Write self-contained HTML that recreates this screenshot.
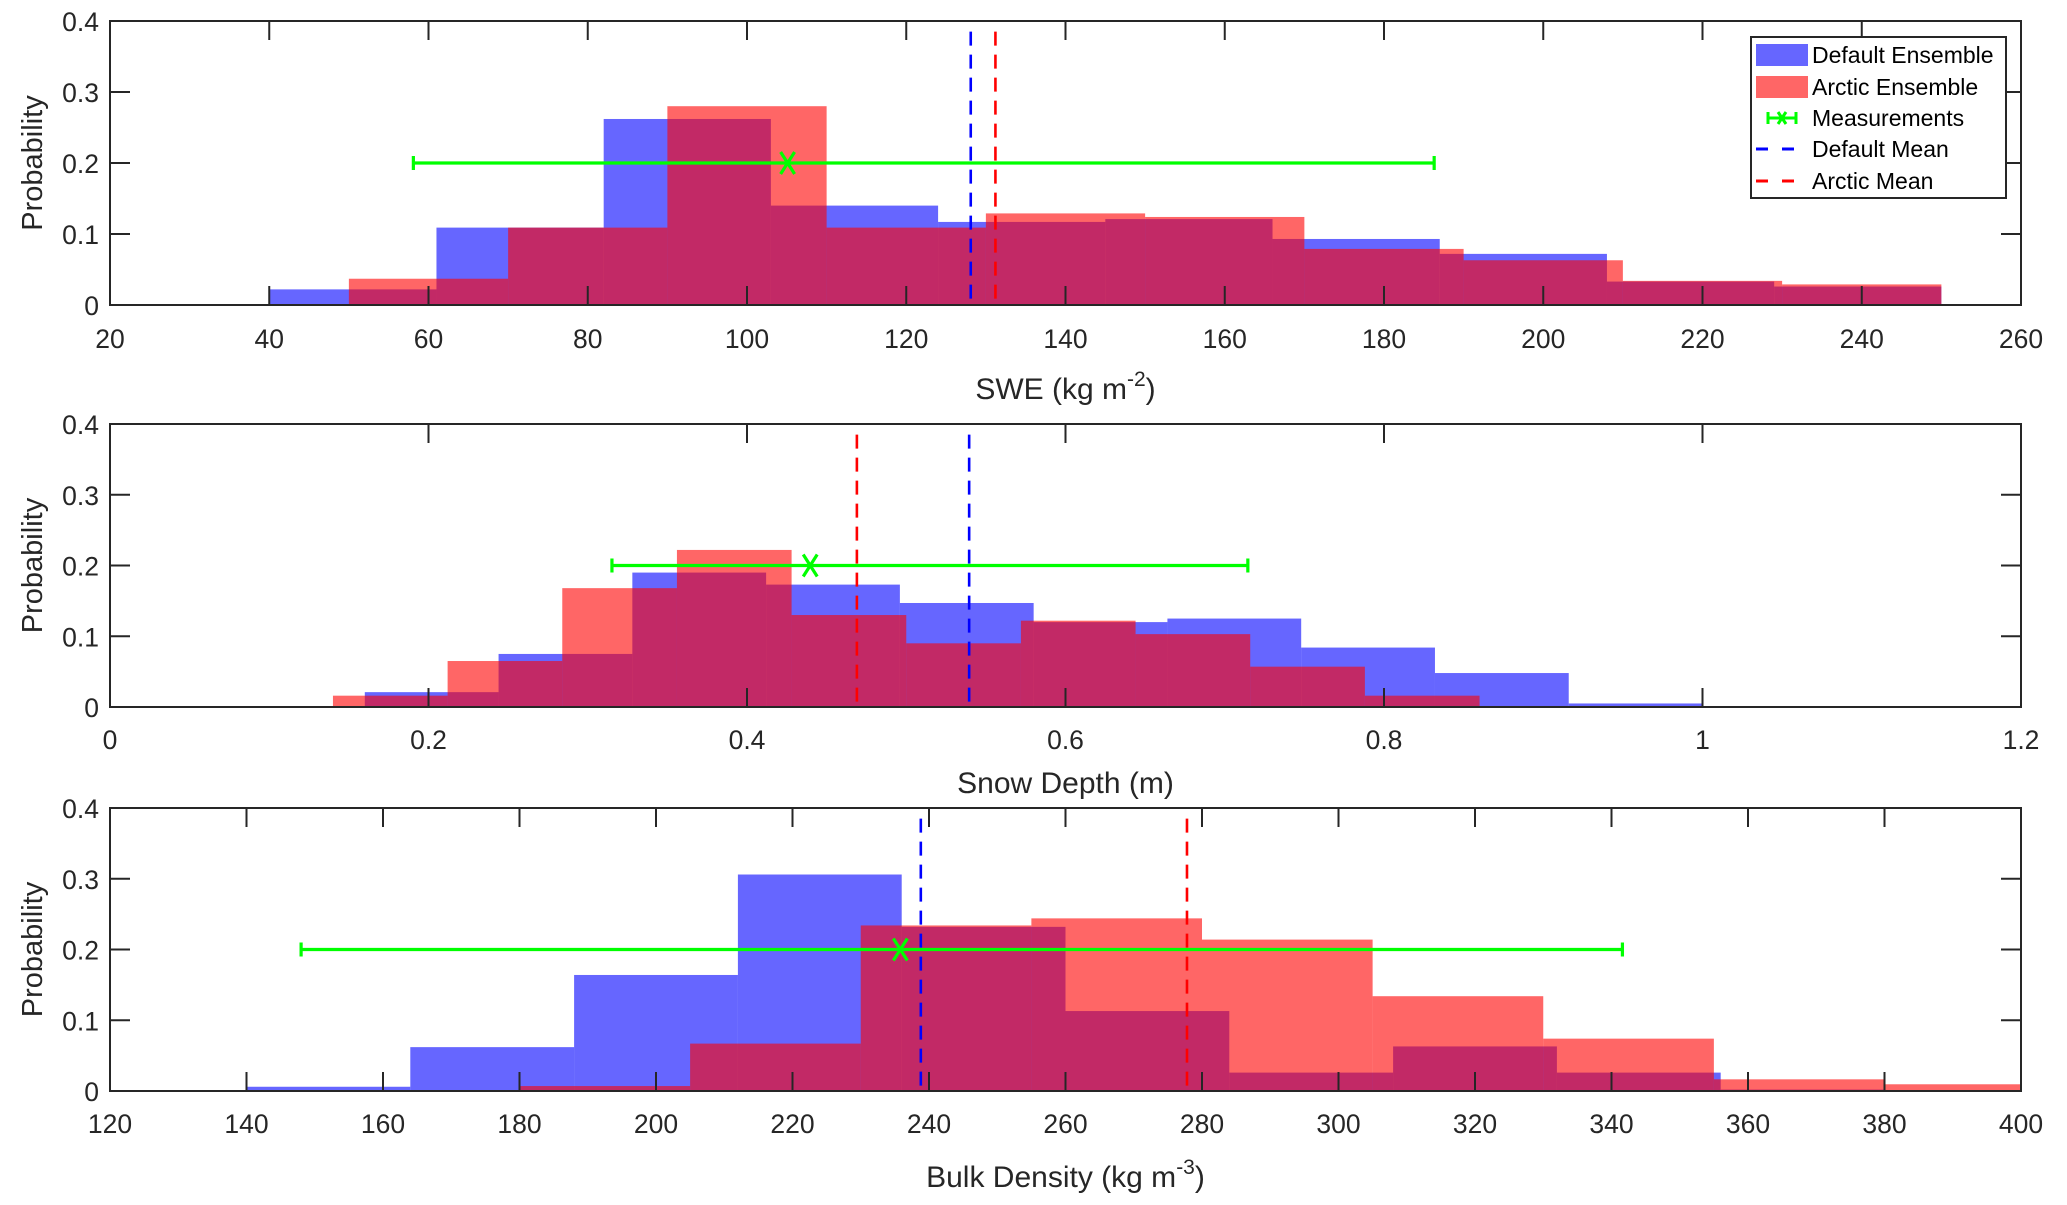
<!DOCTYPE html>
<html><head><meta charset="utf-8"><style>
html,body{margin:0;padding:0;background:#fff;}
svg{display:block;font-family:"Liberation Sans",Arial,sans-serif;}
</style></head><body>
<svg id="chart" width="2067" height="1205" viewBox="0 0 2067 1205" xmlns="http://www.w3.org/2000/svg"></svg>
<script>
// ---- Panel 1: SWE ----
const sweBlueEdges = [40,61,82,103,124,145,166,187,208,229,250];
const sweBlueVals = [0.022,0.109,0.262,0.140,0.117,0.121,0.093,0.072,0.033,0.026];
const sweRedEdges = [50,70,90,110,130,150,170,190,210,230,250];
const sweRedVals = [0.037,0.109,0.280,0.109,0.129,0.124,0.079,0.063,0.034,0.029];
const sweTicks = [20,40,60,80,100,120,140,160,180,200,220,240,260];
const sweMeans = [128.1,131.2];
const sweMeas = [105.1,58.1,186.3];
// ---- Panel 2: Snow depth ----
const depthBlueEdges = [0.16,0.244,0.328,0.412,0.496,0.58,0.664,0.748,0.832,0.916,1.0];
const depthBlueVals = [0.021,0.075,0.190,0.173,0.147,0.120,0.125,0.084,0.048,0.005];
const depthRedEdges = [0.14,0.212,0.284,0.356,0.428,0.5,0.572,0.644,0.716,0.788,0.86];
const depthRedVals = [0.016,0.065,0.168,0.222,0.130,0.090,0.122,0.103,0.057,0.016];
const depthTicks = [0,0.2,0.4,0.6,0.8,1,1.2];
const depthMeans = [0.5395,0.469];
const depthMeas = [0.4397,0.3152,0.7145];
// ---- Panel 3: Bulk density ----
const densBlueEdges = [140,164,188,212,236,260,284,308,332,356,380];
const densBlueVals = [0.006,0.062,0.164,0.306,0.232,0.113,0.026,0.063,0.026,0.002];
const densRedEdges = [180,205,230,255,280,305,330,355,380,405];
const densRedVals = [0.007,0.067,0.234,0.244,0.214,0.134,0.074,0.0165,0.0095];
const densTicks = [120,140,160,180,200,220,240,260,280,300,320,340,360,380,400];
const densMeans = [238.8,277.8];
const densMeas = [235.8,148,341.6];
const yTicks = [0,0.1,0.2,0.3,0.4];

const NS='http://www.w3.org/2000/svg';
const svg=document.getElementById('chart');
function mk(tag,attrs,parent){const e=document.createElementNS(NS,tag);for(const k in attrs)e.setAttribute(k,attrs[k]);(parent||svg).appendChild(e);return e;}

const panels=[
 {key:'swe',top:21,bot:305,xmin:20,xmax:260,bE:sweBlueEdges,bV:sweBlueVals,rE:sweRedEdges,rV:sweRedVals,ticks:sweTicks,means:sweMeans,meas:sweMeas,tickBase:348,label:'SWE (kg m',sup:'-2',labelBase:399},
 {key:'depth',top:424,bot:707,xmin:0,xmax:1.2,bE:depthBlueEdges,bV:depthBlueVals,rE:depthRedEdges,rV:depthRedVals,ticks:depthTicks,means:depthMeans,meas:depthMeas,tickBase:749,label:'Snow Depth (m)',sup:null,labelBase:793},
 {key:'density',top:808,bot:1091,xmin:120,xmax:400,bE:densBlueEdges,bV:densBlueVals,rE:densRedEdges,rV:densRedVals,ticks:densTicks,means:densMeans,meas:densMeas,tickBase:1133,label:'Bulk Density (kg m',sup:'-3',labelBase:1187}
];
const L=110,R=2021;

panels.forEach(p=>{
 const g=mk('g',{});
 
 
 const sx=v=>L+(v-p.xmin)/(p.xmax-p.xmin)*(R-L);
 const sy=v=>p.bot-v/0.4*(p.bot-p.top);
 const clip=mk('clipPath',{id:'clip-'+p.key},g);
 mk('rect',{x:L,y:p.top,width:R-L,height:p.bot-p.top},clip);
 const plot=mk('g',{'clip-path':'url(#clip-'+p.key+')'},g);
 function hist(edges,vals,color,name){
  vals.forEach((v,i)=>{
   const r=mk('rect',{x:sx(edges[i]),y:sy(v),width:sx(edges[i+1])-sx(edges[i]),height:p.bot-sy(v),fill:color,'fill-opacity':0.6},plot);
   
   
  });
 }
 hist(p.bE,p.bV,'#0000ff','default-ensemble');
 hist(p.rE,p.rV,'#ff0000','arctic-ensemble');
 const mb=mk('line',{x1:sx(p.means[0]),x2:sx(p.means[0]),y1:sy(0.385),y2:p.bot,stroke:'#0000ff','stroke-width':2.6,'stroke-dasharray':'14 9'},plot);
 
 
 const mr=mk('line',{x1:sx(p.means[1]),x2:sx(p.means[1]),y1:sy(0.385),y2:p.bot,stroke:'#ff0000','stroke-width':2.6,'stroke-dasharray':'14 9'},plot);
 
 
 const mg=mk('g',{stroke:'#00ff00','stroke-width':3.2,fill:'none'},plot);
 
 
 const y2=sy(0.2),xl=sx(p.meas[1]),xr=sx(p.meas[2]),xc=sx(p.meas[0]);
 mk('line',{x1:xl,x2:xr,y1:y2,y2:y2},mg);
 mk('line',{x1:xl,x2:xl,y1:y2-7,y2:y2+7},mg);
 mk('line',{x1:xr,x2:xr,y1:y2-7,y2:y2+7},mg);
 mk('path',{d:`M${xc-7},${y2-11}L${xc+7},${y2+11}M${xc-7},${y2+11}L${xc+7},${y2-11}`},mg);
 const fr=mk('rect',{x:L,y:p.top,width:R-L,height:p.bot-p.top,fill:'none',stroke:'#262626','stroke-width':2},g);
 
 
 p.ticks.forEach(t=>{
  const x=sx(t);
  mk('line',{x1:x,x2:x,y1:p.bot,y2:p.bot-19,stroke:'#262626','stroke-width':2},g);
  mk('line',{x1:x,x2:x,y1:p.top,y2:p.top+19,stroke:'#262626','stroke-width':2},g);
  const tx=mk('text',{x:x,y:p.tickBase,'font-size':26.5,'text-anchor':'middle',fill:'#262626'},g);
  tx.textContent=String(t);
  
  
 });
 yTicks.forEach(t=>{
  const y=sy(t);
  mk('line',{x1:L,x2:L+20,y1:y,y2:y,stroke:'#262626','stroke-width':2},g);
  mk('line',{x1:R,x2:R-20,y1:y,y2:y,stroke:'#262626','stroke-width':2},g);
  const ty=mk('text',{x:99,y:y+10,'font-size':26.5,'text-anchor':'end',fill:'#262626'},g);
  ty.textContent=String(t);
  
  
 });
 const cy=(p.top+p.bot)/2;
 const yl=mk('text',{x:0,y:0,'font-size':29,'text-anchor':'middle',fill:'#262626',transform:`translate(42,${cy}) rotate(-90)`},g);
 yl.textContent='Probability';
 
 
 const xl2=mk('text',{x:(L+R)/2,y:p.labelBase,'font-size':30,'text-anchor':'middle',fill:'#262626'},g);
 
 
 if(p.sup){
  const a=mk('tspan',{},xl2);a.textContent=p.label;
  const b=mk('tspan',{dy:-13,'font-size':21},xl2);b.textContent=p.sup;
  const c=mk('tspan',{dy:13},xl2);c.textContent=')';
 } else xl2.textContent=p.label;
});

const lg=mk('g',{});


mk('rect',{x:1751,y:37,width:255,height:161,fill:'#fff',stroke:'#262626','stroke-width':2},lg);
const items=[['Default Ensemble','bluebox',55],['Arctic Ensemble','redbox',87],['Measurements','meas',118],['Default Mean','bdash',149],['Arctic Mean','rdash',181]];
items.forEach(it=>{
 const e=mk('g',{},lg);
 
 
 const y=it[2];
 if(it[1]==='bluebox')mk('rect',{x:1756,y:y-11,width:52,height:22,fill:'#0000ff','fill-opacity':0.6},e);
 if(it[1]==='redbox')mk('rect',{x:1756,y:y-11,width:52,height:22,fill:'#ff0000','fill-opacity':0.6},e);
 if(it[1]==='meas'){const m=mk('g',{stroke:'#00ff00','stroke-width':3},e);mk('line',{x1:1768,x2:1796,y1:y,y2:y},m);mk('line',{x1:1768,x2:1768,y1:y-6,y2:y+6},m);mk('line',{x1:1796,x2:1796,y1:y-6,y2:y+6},m);mk('path',{d:`M1778,${y-6}L1786,${y+6}M1778,${y+6}L1786,${y-6}`},m);}
 if(it[1]==='bdash')mk('line',{x1:1756,x2:1798,y1:y,y2:y,stroke:'#0000ff','stroke-width':3,'stroke-dasharray':'12 14'},e);
 if(it[1]==='rdash')mk('line',{x1:1756,x2:1798,y1:y,y2:y,stroke:'#ff0000','stroke-width':3,'stroke-dasharray':'12 14'},e);
 const t=mk('text',{x:1812,y:y+8,'font-size':23,fill:'#000'},e);
 t.textContent=it[0];
});
</script>
</body></html>
